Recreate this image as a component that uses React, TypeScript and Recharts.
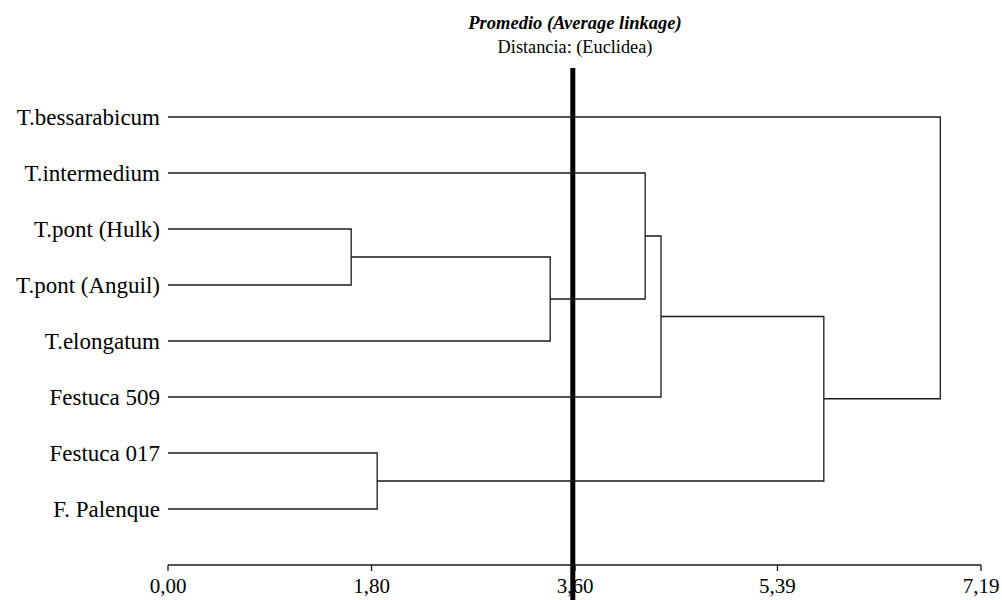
import { ComposedChart, ReferenceLine, Scatter, XAxis, YAxis } from "recharts";

const leafNames = [
  "T.bessarabicum",
  "T.intermedium",
  "T.pont (Hulk)",
  "T.pont (Anguil)",
  "T.elongatum",
  "Festuca 509",
  "Festuca 017",
  "F. Palenque",
];

// merge steps: [left node, right node, distance]; leaves are 0..7, merges get ids 8..
const mergeLeft = [2, 6, 8, 1, 11, 12, 0];
const mergeRight = [3, 7, 4, 10, 5, 9, 13];
const mergeHeight = [1.62, 1.85, 3.38, 4.22, 4.36, 5.8, 6.83];

const cutHeight = 3.58;
const xTicks = [0, 1.8, 3.6, 5.39, 7.19];
const xTickLabels = ["0,00", "1,80", "3,60", "5,39", "7,19"];

const font = "'Liberation Serif', 'Times New Roman', serif";
const ink = "#1a1a1a";

function buildLinks() {
  const nodeX: number[] = leafNames.map(() => 0);
  const nodeY: number[] = leafNames.map((_, i) => i + 1);
  return mergeHeight.map((h, k) => {
    const a = mergeLeft[k];
    const b = mergeRight[k];
    const pts = [
      { x: nodeX[a], y: nodeY[a] },
      { x: h, y: nodeY[a] },
      { x: h, y: nodeY[b] },
      { x: nodeX[b], y: nodeY[b] },
    ];
    nodeX.push(h);
    nodeY.push((nodeY[a] + nodeY[b]) / 2);
    return pts;
  });
}

const links = buildLinks();

export default function App() {
  return (
    <div
      style={{
        position: "absolute",
        left: 0,
        top: 0,
        width: 1002,
        height: 600,
        background: "#fff",
        fontFamily: font,
      }}
    >
      <div
        style={{
          position: "absolute",
          left: 375,
          width: 400,
          top: 12,
          textAlign: "center",
          fontSize: 18.5,
          fontWeight: "bold",
          fontStyle: "italic",
          lineHeight: "22px",
        }}
      >
        Promedio (Average linkage)
      </div>
      <div
        style={{
          position: "absolute",
          left: 375,
          width: 400,
          top: 36,
          textAlign: "center",
          fontSize: 18.3,
          lineHeight: "22px",
        }}
      >
        Distancia: (Euclidea)
      </div>
      <ComposedChart
        width={1002}
        height={600}
        margin={{ top: 61, right: 21, bottom: 0, left: 0 }}
      >
        <XAxis
          type="number"
          dataKey="x"
          domain={[0, 7.19]}
          ticks={xTicks}
          tickFormatter={(v: number) => xTickLabels[xTicks.indexOf(v)] ?? ""}
          interval={0}
          height={35}
          tickSize={6}
          tickMargin={7}
          axisLine={{ stroke: ink, strokeWidth: 1.3 }}
          tickLine={{ stroke: ink, strokeWidth: 1.3 }}
          tick={{ fill: "#000", fontSize: 21, fontFamily: font }}
          allowDataOverflow
        />
        <YAxis
          type="number"
          dataKey="y"
          domain={[0, 9]}
          reversed
          ticks={[1, 2, 3, 4, 5, 6, 7, 8]}
          tickFormatter={(v: number) => leafNames[v - 1] ?? ""}
          interval={0}
          width={168}
          axisLine={false}
          tickLine={false}
          tick={{ fill: "#000", fontSize: 23, fontFamily: font }}
          allowDataOverflow
        />
        {links.map((pts, i) => (
          <Scatter
            key={i}
            data={pts}
            line={{ stroke: ink, strokeWidth: 1.3 }}
            shape={() => <g />}
            isAnimationActive={false}
          />
        ))}
        <ReferenceLine
          segment={[
            { x: cutHeight, y: 0.125 },
            { x: cutHeight, y: 9.7 },
          ]}
          stroke="#000"
          strokeWidth={5}
          ifOverflow="visible"
        />
      </ComposedChart>
    </div>
  );
}
